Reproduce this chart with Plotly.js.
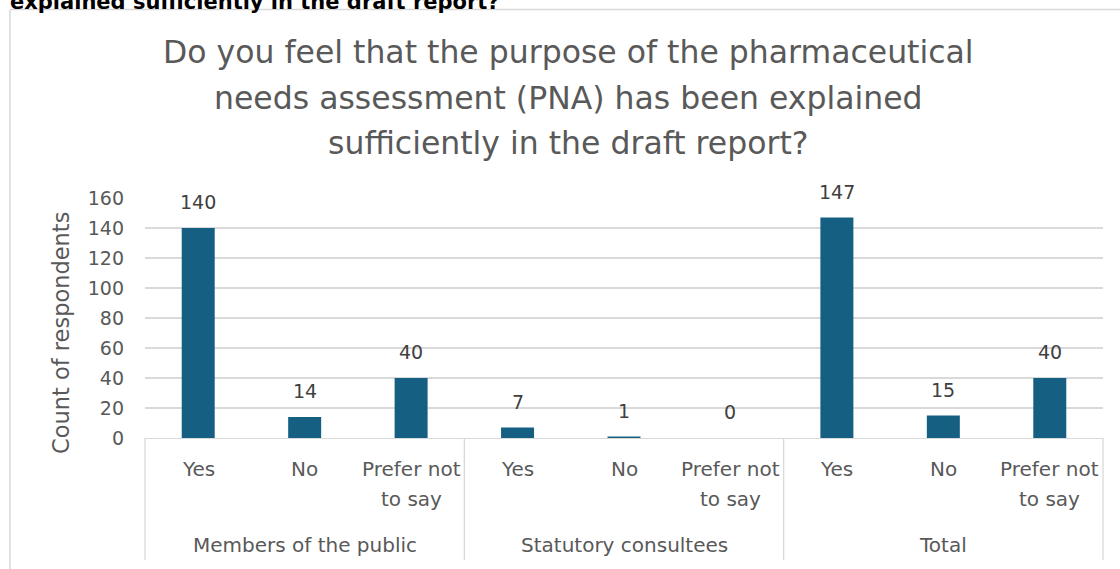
<!DOCTYPE html>
<html>
<head>
<meta charset="utf-8">
<script src="https://cdn.plot.ly/plotly-3.0.1.min.js"></script>
<style>
  html, body { margin: 0; padding: 0; background: #ffffff; }
  #chart { width: 1120px; height: 569px; }
</style>
</head>
<body>
<div id="chart"></div>
<script>
// Survey groups and the answer options shown under each group
const groups = ['Members of the public', 'Statutory consultees', 'Total'];
const responses = ['Yes', 'No', 'Prefer not<br>to say'];

// Count of respondents per answer, one array per group
const publicCounts = [140, 14, 40];
const statutoryCounts = [7, 1, 0];
const totalCounts = [147, 15, 40];

const titleLines = [
  'Do you feel that the purpose of the pharmaceutical',
  'needs assessment (PNA) has been explained',
  'sufficiently in the draft report?'
];
const headingText = 'explained sufficiently in the draft report?';
const yTitle = 'Count of respondents';

// Y axis ticks
const yTicks = [0, 20, 40, 60, 80, 100, 120, 140, 160];

const FONT = '"DejaVu Sans", "Open Sans", sans-serif';
const BAR = '#156082';
const GREY = '#595959';
const LINE = '#d9d9d9';

// Flatten groups into one run of bar positions
const groupCounts = [publicCounts, statutoryCounts, totalCounts];
const xPos = [];
const yVals = [];
const subLabels = [];
groupCounts.forEach((counts, g) => {
  counts.forEach((v, r) => {
    xPos.push(g * responses.length + r);
    yVals.push(v);
    subLabels.push(responses[r]);
  });
});

// pixel helpers for placing decorations around the plot area
const M = { l: 145, r: 17, t: 198, b: 131 };
const W = 1120, H = 569;
const plotW = W - M.l - M.r, plotH = H - M.t - M.b;
const px2x = p => (p - M.l) / plotW;
const px2y = p => (H - M.b - p) / plotH;

const annotations = [];

// value labels above each bar
xPos.forEach((x, i) => {
  annotations.push({
    x: x, y: yVals[i], xref: 'x', yref: 'y',
    text: String(yVals[i]), showarrow: false,
    yanchor: 'middle', yshift: 26,
    font: { family: FONT, size: 19, color: '#404040' }
  });
});

// answer labels under the axis, one annotation per text line
xPos.forEach((x, i) => {
  subLabels[i].split('<br>').forEach((line, k) => {
    annotations.push({
      x: x, y: px2y(469 + 30 * k), xref: 'x', yref: 'paper',
      text: line, showarrow: false, yanchor: 'middle',
      font: { family: FONT, size: 20, color: GREY }
    });
  });
});

// group labels
groups.forEach((g, gi) => {
  annotations.push({
    x: gi * responses.length + (responses.length - 1) / 2,
    y: px2y(545), xref: 'x', yref: 'paper',
    text: g, showarrow: false, yanchor: 'middle',
    font: { family: FONT, size: 20, color: GREY }
  });
});

// chart title lines
const titleY = [52, 98, 143];
titleLines.forEach((t, i) => {
  annotations.push({
    x: px2x(568), y: px2y(titleY[i]), xref: 'paper', yref: 'paper',
    text: t, showarrow: false, xanchor: 'center', yanchor: 'middle',
    font: { family: FONT, size: 31.5, color: GREY }
  });
});

// y axis title, centred on the plot plus the category band
annotations.push({
  x: px2x(61), y: px2y(333), xref: 'paper', yref: 'paper',
  text: yTitle, showarrow: false, textangle: -90,
  xanchor: 'center', yanchor: 'middle',
  font: { family: FONT, size: 22.5, color: GREY }
});

// bold heading above the chart frame
annotations.push({
  x: px2x(8), y: px2y(16), xref: 'paper', yref: 'paper',
  text: '<b>' + headingText + '</b>', showarrow: false,
  xanchor: 'left', yanchor: 'bottom',
  font: { family: FONT, size: 21, color: '#000000' }
});

// group dividers and frame lines
const shapes = [];
const divBottom = px2y(560);
[0, 1].forEach(d => {
  shapes.push({ type: 'line', xref: 'x domain', yref: 'paper',
    x0: d, x1: d, y0: 0, y1: divBottom, line: { color: LINE, width: 1.3 } });
});
for (let g = 1; g < groups.length; g++) {
  const xd = g * responses.length - 0.5;
  shapes.push({ type: 'line', xref: 'x', yref: 'paper',
    x0: xd, x1: xd, y0: 0, y1: divBottom, line: { color: LINE, width: 1.3 } });
}
// chart frame (left and top edges)
shapes.push({ type: 'line', xref: 'paper', yref: 'paper',
  x0: px2x(10), x1: px2x(10), y0: px2y(9.5), y1: px2y(600),
  line: { color: LINE, width: 1.5 } });
shapes.push({ type: 'line', xref: 'paper', yref: 'paper',
  x0: px2x(10), x1: px2x(1130), y0: px2y(9.5), y1: px2y(9.5),
  line: { color: LINE, width: 1.5 } });

const trace = {
  type: 'bar',
  x: xPos,
  y: yVals,
  marker: { color: BAR },
  hoverinfo: 'x+y'
};

const layout = {
  width: W, height: H,
  margin: M,
  paper_bgcolor: '#ffffff',
  plot_bgcolor: '#ffffff',
  showlegend: false,
  bargap: 0.69,
  font: { family: FONT, color: GREY },
  xaxis: {
    range: [-0.5, xPos.length - 0.5],
    showgrid: false, zeroline: false,
    showticklabels: false, ticks: '',
    showline: true, linecolor: LINE, linewidth: 1.3,
    fixedrange: true
  },
  yaxis: {
    range: [0, 160],
    tickvals: yTicks,
    showgrid: true, gridcolor: LINE, gridwidth: 1.3,
    zeroline: false, showline: false, ticks: '',
    ticklabelstandoff: 20,
    tickfont: { family: FONT, size: 19, color: GREY },
    automargin: false,
    fixedrange: true
  },
  annotations: annotations,
  shapes: shapes
};

Plotly.newPlot('chart', [trace], layout, { displayModeBar: false, staticPlot: true });
</script>
</body>
</html>
